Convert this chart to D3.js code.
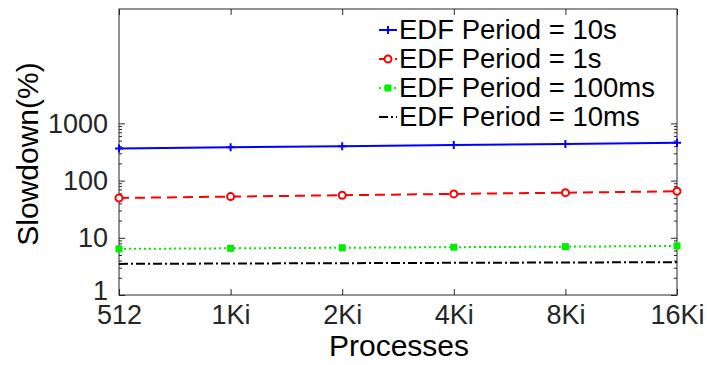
<!DOCTYPE html>
<html><head><meta charset="utf-8">
<script src="https://cdn.jsdelivr.net/npm/d3@7"></script>
<style>body{margin:0;background:#fff}svg{display:block}text{font-family:"Liberation Sans",Arial,Helvetica,sans-serif}</style>
</head><body><svg id="c" width="707" height="365"></svg>
<script>
const categories = ["512","1Ki","2Ki","4Ki","8Ki","16Ki"];
const yTickValues = [1,10,100,1000];
const seriesNames = ["EDF Period = 10s","EDF Period = 1s","EDF Period = 100ms","EDF Period = 10ms"];
const period10s   = [364, 382, 400, 420, 438, 458];
const period1s    = [49.7, 52.5, 55.5, 58.5, 61.5, 65];
const period100ms = [6.4, 6.55, 6.7, 6.85, 7.0, 7.2];
const period10ms  = [3.5, 3.55, 3.6, 3.65, 3.7, 3.75];

const series = [
  {name:seriesNames[0], values:period10s, color:"#0000ff", dash:null, marker:"plus"},
  {name:seriesNames[1], values:period1s, color:"#ff0000", dash:"10,6", marker:"circle"},
  {name:seriesNames[2], values:period100ms, color:"#00ee00", dash:"2,3", marker:"square"},
  {name:seriesNames[3], values:period10ms, color:"#000000", dash:"9,3,2,3", marker:null}
];

const svg = d3.select("#c");
const L=119, R=677, T=9, B=295;
const x = d3.scalePoint().domain(categories).range([L,R]);
const y = d3.scaleLog().domain([1,1e5]).range([B,T]);
const axisColor = "#262626";

// box
svg.append("rect").attr("x",L).attr("y",T).attr("width",R-L).attr("height",B-T)
  .attr("fill","none").attr("stroke",axisColor).attr("stroke-width",1);

// x ticks (inward, bottom and top)
const xa = d3.axisBottom(x).tickSize(-6);
const gx = svg.append("g").attr("transform",`translate(0,${B})`).call(xa);
gx.select(".domain").remove();
gx.selectAll("line").attr("stroke",axisColor);
gx.selectAll("text").attr("font-size",27).attr("fill","#262626").attr("dy","0.72em").attr("y",10);
const gxt = svg.append("g").attr("transform",`translate(0,${T})`).call(d3.axisTop(x).tickSize(-6).tickFormat(""));
gxt.select(".domain").remove();
gxt.selectAll("line").attr("stroke",axisColor);

// y ticks
const minor = [];
for (let d=1; d<1000; d*=10) for (let k=2;k<=9;k++) minor.push(d*k);
const ya = d3.axisLeft(y).tickValues(yTickValues).tickFormat(d3.format("d")).tickSize(-6).tickPadding(11);
const gy = svg.append("g").attr("transform",`translate(${L},0)`).call(ya);
gy.select(".domain").remove();
gy.selectAll("line").attr("stroke",axisColor);
gy.selectAll("text").attr("font-size",27).attr("fill","#262626")
  .attr("dy", d => d===1 ? "0.17em" : "0.34em");
const gym = svg.append("g").attr("transform",`translate(${L},0)`).call(d3.axisLeft(y).tickValues(minor).tickSize(-3).tickFormat(""));
gym.select(".domain").remove(); gym.selectAll("line").attr("stroke",axisColor);
const gyr = svg.append("g").attr("transform",`translate(${R},0)`).call(d3.axisRight(y).tickValues(yTickValues).tickSize(-6).tickFormat(""));
gyr.select(".domain").remove(); gyr.selectAll("line").attr("stroke",axisColor);
const gyrm = svg.append("g").attr("transform",`translate(${R},0)`).call(d3.axisRight(y).tickValues(minor).tickSize(-3).tickFormat(""));
gyrm.select(".domain").remove(); gyrm.selectAll("line").attr("stroke",axisColor);

// titles
svg.append("text").attr("x",(L+R)/2+1).attr("y",356).attr("text-anchor","middle")
  .attr("font-size",30).attr("fill","#000").text("Processes");
svg.append("text").attr("transform",`translate(38,154) rotate(-90)`).attr("text-anchor","middle")
  .attr("font-size",30).attr("fill","#000").text("Slowdown(%)");

function drawMarker(g, type, cx, cy, color){
  if (type==="plus"){
    g.append("path").attr("d",`M${cx-4},${cy}H${cx+4}M${cx},${cy-4}V${cy+4}`).attr("stroke",color).attr("stroke-width",2);
  } else if (type==="circle"){
    g.append("circle").attr("cx",cx).attr("cy",cy).attr("r",3.5).attr("fill","#fff").attr("stroke",color).attr("stroke-width",2);
  } else if (type==="square"){
    g.append("rect").attr("x",cx-3.5).attr("y",cy-3.5).attr("width",7).attr("height",7).attr("fill",color);
  }
}

const line = d3.line().x((d,i)=>x(categories[i])).y(d=>y(d));
series.forEach(s=>{
  const g = svg.append("g");
  g.append("path").attr("d",line(s.values)).attr("fill","none").attr("stroke",s.color)
    .attr("stroke-width",2).attr("stroke-dasharray",s.dash);
  s.values.forEach((v,i)=>drawMarker(g,s.marker,x(categories[i]),y(v),s.color));
});

// legend
const lg = svg.append("g");
series.forEach((s,i)=>{
  const by = 39 + i*29;
  const cy = by - 9;
  lg.append("line").attr("x1",379).attr("x2",397).attr("y1",cy).attr("y2",cy)
    .attr("stroke",s.color).attr("stroke-width",2).attr("stroke-dasharray",s.dash);
  drawMarker(lg,s.marker,388,cy,s.color);
  lg.append("text").attr("x",399).attr("y",by).attr("font-size",27.5).attr("fill","#000").text(s.name);
});
</script></body></html>
